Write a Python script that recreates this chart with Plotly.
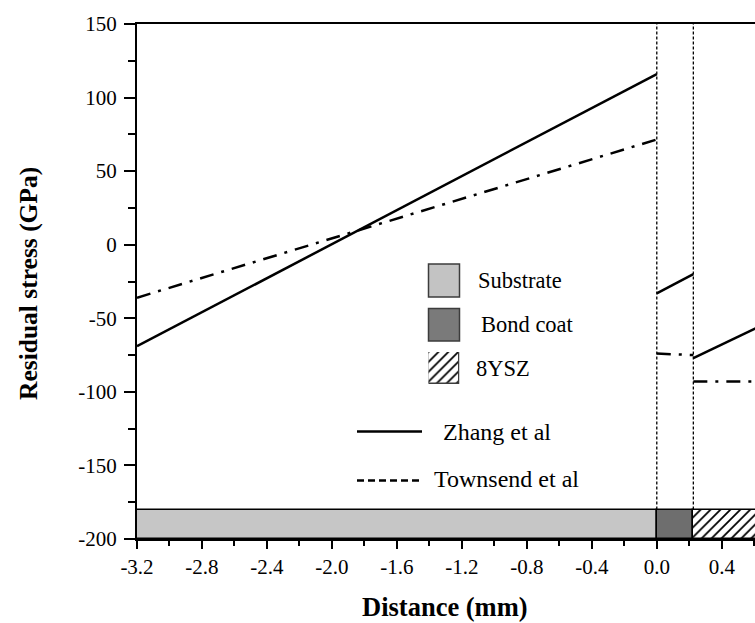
import plotly.graph_objects as go

# ---------------- data ----------------
# layer boundaries (mm)
layer_names = ["Substrate", "Bond coat", "8YSZ"]
layer_left = [-3.2, 0.0, 0.225]
layer_right = [0.0, 0.225, 0.65]
layer_bottom = -200
layer_top = -180

# Zhang et al (solid) segments: x pairs and stress pairs
zhang_x = [[-3.2, 0.0], [0.0, 0.225], [0.225, 0.65]]
zhang_y = [[-69, 116], [-33, -20], [-77, -54.6]]

# Townsend et al (dash-dot) segments
town_x = [[-3.2, 0.0], [0.0, 0.225], [0.225, 0.65]]
town_y = [[-36, 71.5], [-74, -75], [-93, -93]]

# interface positions (vertical dotted lines)
interfaces = [0.0, 0.225]

x_ticks = [-3.2, -2.8, -2.4, -2.0, -1.6, -1.2, -0.8, -0.4, 0.0, 0.4]
x_labels = ["-3.2", "-2.8", "-2.4", "-2.0", "-1.6", "-1.2", "-0.8", "-0.4", "0.0", "0.4"]
y_ticks = [-200, -150, -100, -50, 0, 50, 100, 150]
y_labels = ["-200", "-150", "-100", "-50", "0", "50", "100", "150"]

# ---------------- layout geometry ----------------
W, H = 755, 623
L, R, T, B = 137, 755, 24, 539
FONT = "Liberation Serif"


def px(xp):
    return (xp - L) / (R - L)


def py(yp):
    return (B - yp) / (B - T)


fig = go.Figure()

# layer bars at the bottom
fills = ["#c6c6c6", "#6e6e6e", "white"]
for i, name in enumerate(layer_names):
    marker = dict(color=fills[i], line=dict(color="black", width=1.5))
    if name == "8YSZ":
        marker["pattern"] = dict(shape="/", fgcolor="black", bgcolor="white",
                                 size=7, solidity=0.25, fillmode="replace")
    fig.add_trace(go.Bar(
        x=[(layer_left[i] + layer_right[i]) / 2],
        y=[layer_top - layer_bottom],
        base=[layer_bottom],
        width=[layer_right[i] - layer_left[i]],
        marker=marker, showlegend=False, hoverinfo="skip",
    ))

# interface dotted lines
for xi in interfaces:
    fig.add_trace(go.Scatter(
        x=[xi, xi], y=[layer_top, 150], mode="lines",
        line=dict(color="black", width=1.3, dash="3px,2px"),
        showlegend=False, hoverinfo="skip"))

for xs, ys in zip(zhang_x, zhang_y):
    fig.add_trace(go.Scatter(x=xs, y=ys, mode="lines",
                             line=dict(color="black", width=2.5),
                             showlegend=False, cliponaxis=True))
for xs, ys in zip(town_x, town_y):
    fig.add_trace(go.Scatter(x=xs, y=ys, mode="lines",
                             line=dict(color="black", width=2.5, dash="14px,8px,3px,8px"),
                             showlegend=False, cliponaxis=True))

# ---------------- custom legend ----------------
shapes = []
annotations = []
box_x0, box_x1 = 428.5, 459.5
boxes = [(264, 297, "#c3c3c3"), (308.5, 341, "#7a7a7a"), (352, 384, None)]
text_left = [476, 479, 474]
for (y0, y1, col), name, tl in zip(boxes, layer_names, text_left):
    if col is not None:
        shapes.append(dict(type="rect", xref="paper", yref="paper",
                           x0=px(box_x0), x1=px(box_x1), y0=py(y1), y1=py(y0),
                           fillcolor=col, line=dict(color="#3c3c3c", width=1.5)))
    annotations.append(dict(text=name, xref="paper", yref="paper",
                            x=px(tl), y=py((y0 + y1) / 2), xanchor="left", yanchor="middle",
                            showarrow=False, font=dict(family=FONT, size=22.5, color="black")))

# hatched legend box via small overlay axis
fig.add_trace(go.Bar(
    x=[1], y=[1], base=[0], width=[1], xaxis="x2", yaxis="y2",
    marker=dict(color="white", line=dict(color="#3c3c3c", width=1.5),
                pattern=dict(shape="/", fgcolor="black", bgcolor="white",
                             size=7, solidity=0.25, fillmode="replace")),
    showlegend=False, hoverinfo="skip"))

# line samples
shapes.append(dict(type="line", xref="paper", yref="paper",
                   x0=px(357), x1=px(422), y0=py(431.5), y1=py(431.5),
                   line=dict(color="black", width=2.5)))
shapes.append(dict(type="line", xref="paper", yref="paper",
                   x0=px(357), x1=px(422), y0=py(480.5), y1=py(480.5),
                   line=dict(color="black", width=2.5, dash="7px,4px")))
annotations.append(dict(text="Zhang et al", xref="paper", yref="paper",
                        x=px(441), y=py(432), xanchor="left", yanchor="middle",
                        showarrow=False, font=dict(family=FONT, size=24, color="black")))
annotations.append(dict(text="Townsend et al", xref="paper", yref="paper",
                        x=px(432), y=py(479), xanchor="left", yanchor="middle",
                        showarrow=False, font=dict(family=FONT, size=24, color="black")))

# axis titles
annotations.append(dict(text="<b>Distance (mm)</b>", xref="paper", yref="paper",
                        x=px(445), y=py(607), xanchor="center", yanchor="middle",
                        showarrow=False, font=dict(family=FONT, size=26.5, color="black")))
annotations.append(dict(text="<b>Residual stress (GPa)</b>", xref="paper", yref="paper",
                        x=px(28), y=py(284), xanchor="center", yanchor="middle", textangle=-90,
                        showarrow=False, font=dict(family=FONT, size=25.5, color="black")))

axis_common = dict(showgrid=False, zeroline=False, showline=True, linecolor="black",
                   linewidth=2, ticks="outside", tickcolor="black", tickwidth=2,
                   tickfont=dict(family=FONT, size=21, color="black"), automargin=False)

fig.update_layout(
    width=W, height=H,
    margin=dict(l=L, r=W - R, t=T, b=H - B, pad=0),
    paper_bgcolor="white", plot_bgcolor="white",
    barmode="overlay", bargap=0,
    showlegend=False,
    xaxis=dict(range=[-3.2, 0.6046], tickvals=x_ticks, ticktext=x_labels,
               ticklen=8, mirror=True,
               minor=dict(dtick=0.2, tick0=-3.2, ticklen=5, tickwidth=2,
                          tickcolor="black", ticks="outside"),
               **axis_common),
    yaxis=dict(range=[-200, 150], tickvals=y_ticks, ticktext=y_labels,
               ticklen=11, ticklabelstandoff=3,
               minor=dict(dtick=25, tick0=-200, ticklen=7, tickwidth=2,
                          tickcolor="black", ticks="outside"),
               **axis_common),
    xaxis2=dict(domain=[px(box_x0), px(box_x1)], range=[0.5, 1.5], visible=False,
                anchor="y2", fixedrange=True),
    yaxis2=dict(domain=[py(384), py(352)], range=[0, 1], visible=False,
                anchor="x2", fixedrange=True),
    shapes=shapes,
    annotations=annotations,
)

fig.write_html("out.html")
